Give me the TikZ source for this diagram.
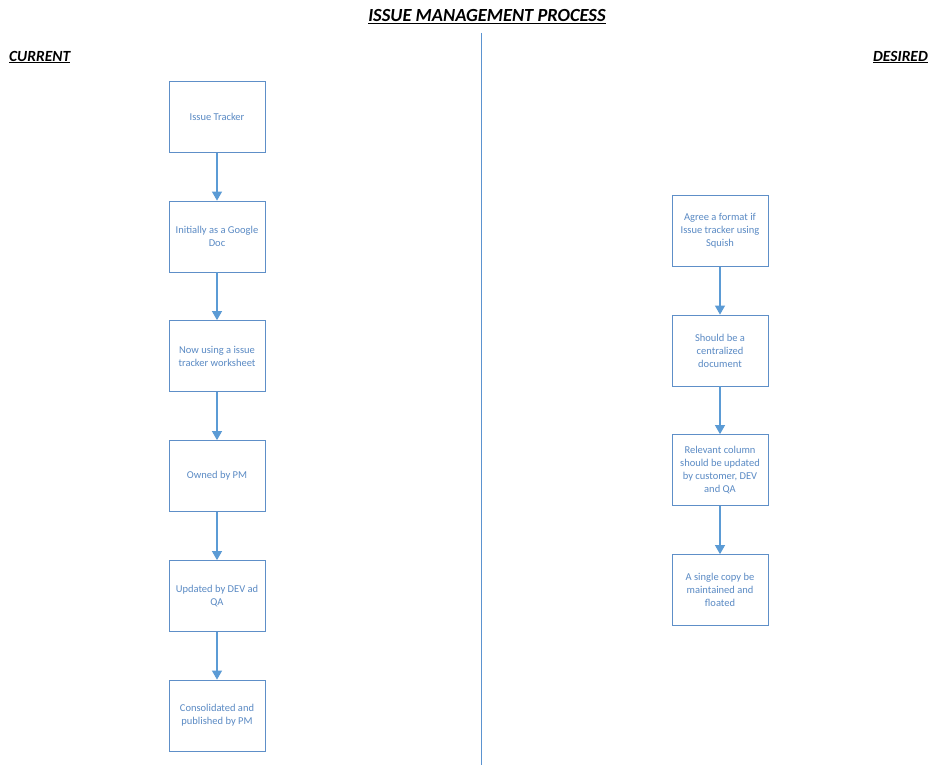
\documentclass[tikz,border=0pt]{standalone}
\usepackage{fontspec}
\setmainfont{Carlito}
\usetikzlibrary{arrows.meta}
\definecolor{boxline}{HTML}{5E8FC8}
\definecolor{boxtext}{HTML}{5A8AC4}
\definecolor{arrowc}{HTML}{5B9BD5}
\definecolor{divc}{HTML}{5B93D0}
\begin{document}
\begin{tikzpicture}[x=1pt,y=-1pt,
  procbox/.style={draw=boxline,line width=0.8pt,fill=white,minimum width=96pt,minimum height=71pt,
    align=center,font=\fontsize{10.5}{13}\selectfont,text=boxtext,inner sep=0pt},
  flow/.style={draw=arrowc,line width=1.1pt,-{Triangle[width=10pt,length=9pt]}},
  heading/.style={font=\bfseries\itshape,text=black,inner sep=0pt}]
\useasboundingbox (0,0) rectangle (937,765);
\fill[white] (0,0) rectangle (937,765);
\node[heading,font=\fontsize{18.5}{20}\selectfont\bfseries\itshape] (title) at (487,17) {\underline{ISSUE MANAGEMENT PROCESS}};
\node[heading,anchor=west,font=\fontsize{15.5}{18}\selectfont\bfseries\itshape] (cur) at (9,57) {\underline{CURRENT}};
\node[heading,anchor=east,font=\fontsize{15.5}{18}\selectfont\bfseries\itshape] (des) at (928,57) {\underline{DESIRED}};
\coordinate (dtop) at (481,33);
\coordinate (dbot) at (481,765);
\draw[divc,line width=1pt] (dtop) -- (dbot);
% left column
\node[procbox] (l1) at (217,117) {Issue Tracker};
\node[procbox] (l2) at (217,236.5) {Initially as a Google\\Doc};
\node[procbox] (l3) at (217,356) {Now using a issue\\tracker worksheet};
\node[procbox] (l4) at (217,476) {Owned by PM};
\node[procbox] (l5) at (217,596) {Updated by DEV ad\\QA};
\node[procbox] (l6) at (217,715.5) {Consolidated and\\published by PM};
\draw[flow] (l1) -- (l2);
\draw[flow] (l2) -- (l3);
\draw[flow] (l3) -- (l4);
\draw[flow] (l4) -- (l5);
\draw[flow] (l5) -- (l6);
% right column
\node[procbox] (r1) at (720,231) {Agree a format if\\Issue tracker using\\Squish};
\node[procbox] (r2) at (720,350.5) {Should be a\\centralized\\document};
\node[procbox] (r3) at (720,470) {Relevant column\\should be updated\\by customer, DEV\\and QA};
\node[procbox] (r4) at (720,590) {A single copy be\\maintained and\\floated};
\draw[flow] (r1) -- (r2);
\draw[flow] (r2) -- (r3);
\draw[flow] (r3) -- (r4);
\end{tikzpicture}
\end{document}
